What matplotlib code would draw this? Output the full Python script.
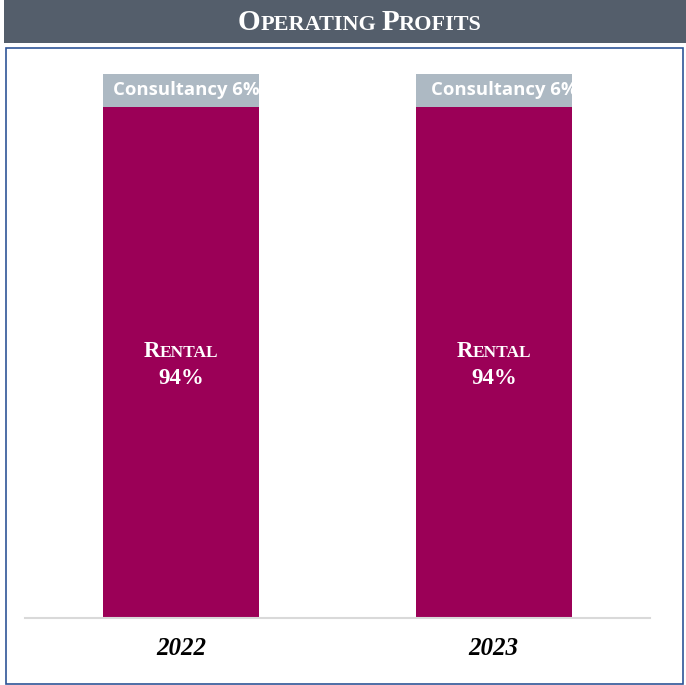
import matplotlib
matplotlib.use('Agg')
import matplotlib.pyplot as plt
from matplotlib.patches import Rectangle
from matplotlib.offsetbox import TextArea, HPacker, VPacker, AnnotationBbox

# datos del grafico
anios = ['2022', '2023']
alquiler = [94, 94]
consultoria = [6, 6]

rojo = '#9B0057'
gris = '#ADB9C3'
banda = '#545E6B'
serif = 'Liberation Serif'


def versalitas(palabra, grande, chica, color):
    # primera letra grande, resto en mayusculas mas chicas
    partes = [TextArea(palabra[0], textprops=dict(size=grande, color=color, family=serif, weight='bold')),
              TextArea(palabra[1:].upper(), textprops=dict(size=chica, color=color, family=serif, weight='bold'))]
    return HPacker(children=partes, align='baseline', pad=0, sep=0)


fig = plt.figure(figsize=(6.86, 6.85), dpi=100)
W, H = 686, 685

# banda del titulo y marco azul
fig.patches.append(Rectangle((4 / W, 1 - 43 / H), 682 / W, 43 / H, transform=fig.transFigure,
                             facecolor=banda, edgecolor='none', zorder=0))
fig.patches.append(Rectangle((5.5 / W, 1.5 / H), 677 / W, (684 - 48) / H, transform=fig.transFigure,
                             facecolor='none', edgecolor='#2F5597', linewidth=1.2, zorder=0))

titulo = HPacker(children=[versalitas('Operating', 21, 16, 'white'),
                           TextArea(' ', textprops=dict(size=14, family=serif)),
                           versalitas('Profits', 21, 16, 'white')],
                 align='baseline', pad=0, sep=0)
ab = AnnotationBbox(titulo, (360 / W, 1 - 22 / H), xycoords='figure fraction', frameon=False)
fig.add_artist(ab)

ax = fig.add_axes([25 / W, 67 / H, 625 / W, (611 - 67) / H])
ax.patch.set_alpha(0)
x = range(len(anios))
ax.bar(x, alquiler, width=0.5, color=rojo, edgecolor='none')
barras_c = ax.bar(x, consultoria, width=0.5, bottom=alquiler, color=gris, edgecolor='none')
ax.set_xlim(-0.5, 1.5)
ax.set_ylim(0, 100)

for i in x:
    # la etiqueta del segmento gris se recorta al ancho de la barra
    t = ax.text(i - 0.219 + 0.018 * i, alquiler[i] + consultoria[i] / 2, 'Consultancy %d%%' % consultoria[i],
                ha='left', va='center', color='white', fontsize=13.3, fontweight='bold', family='Open Sans')
    t.set_clip_path(barras_c[i])
    etiqueta = VPacker(children=[versalitas('Rental', 16.5, 12.5, 'white'),
                                 TextArea('%d%%' % alquiler[i], textprops=dict(size=16.5, color='white', family=serif, weight='bold'))],
                       align='center', pad=0, sep=4)
    ax.add_artist(AnnotationBbox(etiqueta, (i, 46.5), xycoords='data', frameon=False))

ax.set_xticks(list(x))
ax.set_xticklabels(anios, fontsize=18, fontweight='bold', fontstyle='italic', family=serif)
ax.tick_params(axis='x', length=0, pad=14)
ax.set_yticks([])
for lado in ['top', 'left', 'right']:
    ax.spines[lado].set_visible(False)
ax.spines['bottom'].set_color('#D9D9D9')
ax.spines['bottom'].set_linewidth(1.5)

fig.savefig('out.png', dpi=100)
